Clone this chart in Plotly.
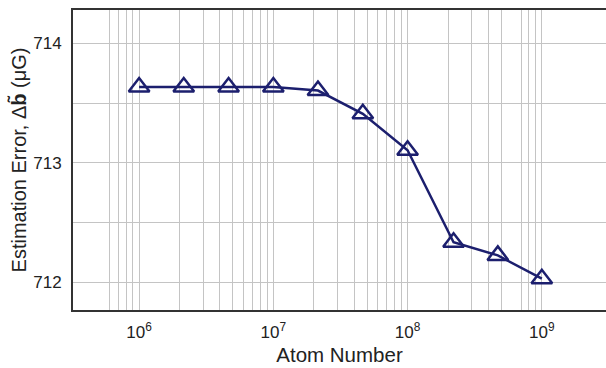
import plotly.graph_objects as go

atom_number = [1e6, 2.15e6, 4.64e6, 1e7, 2.15e7, 4.64e7, 1e8, 2.2e8, 4.7e8, 1e9]
est_error = [713.635, 713.635, 713.635, 713.635, 713.605, 713.41, 713.105, 712.335, 712.225, 712.03]

x_tick_vals = [1e6, 1e7, 1e8, 1e9]
x_tick_text = ["10<sup>6</sup>", "10<sup>7</sup>", "10<sup>8</sup>", "10<sup>9</sup>"]
x_minor_vals = [6e5, 7e5, 8e5, 9e5,
                2e6, 3e6, 4e6, 5e6, 6e6, 7e6, 8e6, 9e6,
                2e7, 3e7, 4e7, 5e7, 6e7, 7e7, 8e7, 9e7,
                2e8, 3e8, 4e8, 5e8, 7e8, 8e8, 9e8]
y_tick_vals = [712, 713, 714]
y_minor_vals = [712.5, 713.5]

navy = "#1c1f6e"
grid = "#c4c4c4"
font = "Liberation Sans, Arial, sans-serif"

fig = go.Figure()
fig.add_trace(go.Scatter(
    x=atom_number, y=est_error, mode="lines+markers",
    line=dict(color=navy, width=2.5),
    marker=dict(symbol="triangle-up-open", size=18, color=navy,
                line=dict(color=navy, width=2.5)),
    showlegend=False, cliponaxis=False,
))

fig.update_layout(
    width=606, height=368,
    margin=dict(l=73, r=0, t=10, b=58),
    paper_bgcolor="white", plot_bgcolor="white",
    font=dict(family=font, color="#222222", size=17),
)
fig.update_xaxes(
    type="log", range=[5.5075, 9.478],
    tickmode="array", tickvals=x_tick_vals, ticktext=x_tick_text,
    showgrid=True, gridcolor=grid, gridwidth=1,
    minor=dict(tickmode="array", tickvals=x_minor_vals, showgrid=True,
               gridcolor=grid, gridwidth=1),
    showline=True, linecolor="#333333", linewidth=2, mirror=True,
    ticks="", ticklabelstandoff=6, zeroline=False,
    title=dict(text="Atom Number", font=dict(size=20.5), standoff=6),
)
fig.update_yaxes(
    range=[711.768, 714.279],
    tickmode="array", tickvals=y_tick_vals, ticktext=[str(v) for v in y_tick_vals],
    showgrid=True, gridcolor=grid, gridwidth=1,
    minor=dict(tickmode="array", tickvals=y_minor_vals, showgrid=True,
               gridcolor=grid, gridwidth=1),
    showline=True, linecolor="#333333", linewidth=2, mirror=False,
    ticks="", ticklabelstandoff=6, zeroline=False,
    title=dict(text="Estimation Error, Δ<b>b\u0303</b> (μG)", font=dict(size=20), standoff=1),
)

fig.write_html("out.html")
